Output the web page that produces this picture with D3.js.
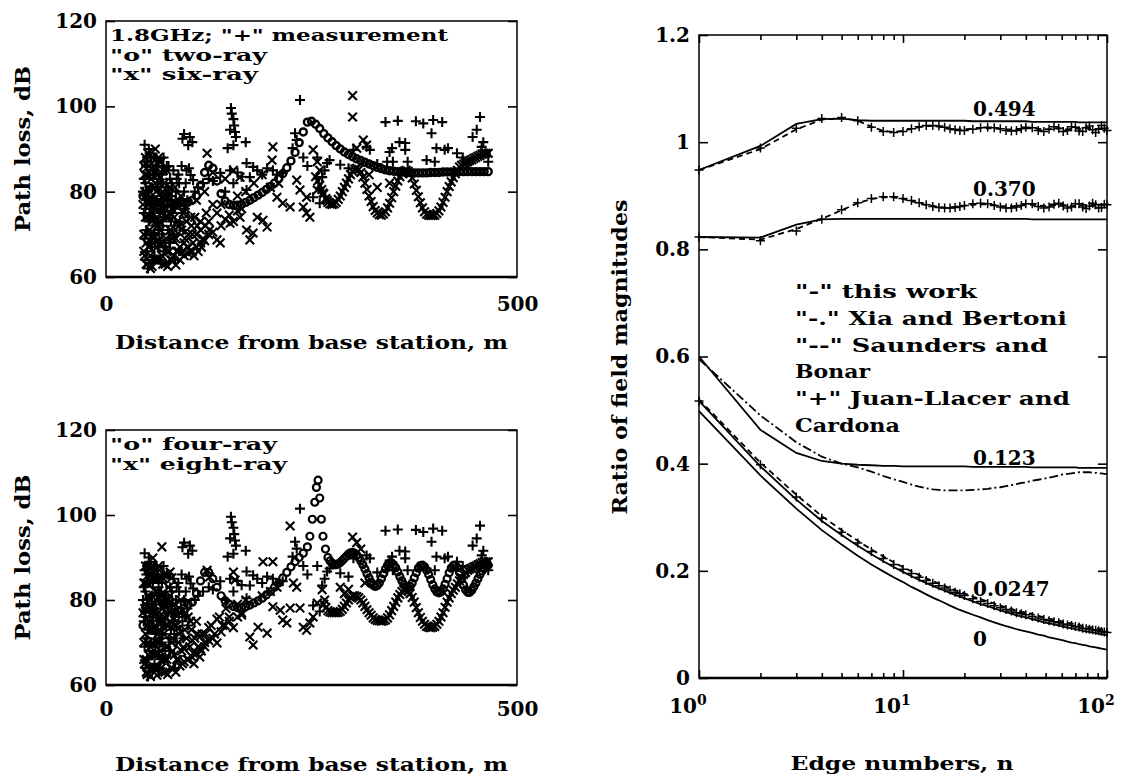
<!DOCTYPE html>
<html>
<head>
<meta charset="utf-8">
<script src="https://cdn.jsdelivr.net/npm/d3@7"></script>
<style>
  body { margin: 0; background: #fff; }
  text { font-family: "DejaVu Serif", serif; fill: #000; font-weight: bold; }
</style>
</head>
<body>
<svg id="fig" width="1128" height="778"></svg>
<script>
// ---------- path loss panels (distance m, loss dB) ----------
const distTicks = [0, 500];
const lossTicks = [60, 80, 100, 120];

// "+" measurement, shared by both panels
const measured = [
  [47,87],[48,82],[48,76],[49,71],[50,66],[51,84],[52,79],[52,73],[53,68],[54,63],
  [55,88],[56,81],[57,76],[58,70],[59,65],[60,85],[61,78],[62,73],[63,67],[64,83],
  [65,80],[66,75],[68,70],[69,86],[70,78],[72,74],[73,81],[75,77],[76,71],[78,83],
  [80,79],[81,75],[83,72],[85,80],[87,77],[89,82],[91,78],[93,75],[95,80],[97,82],[99,78],
  [46,83],[47,69],[49,86],[50,79],[51,74],[53,89],[54,77],[56,67],[57,84],[58,74],[60,69],
  [61,88],[62,81],[64,71],[66,64],[67,79],[68,84],[70,66],[71,74],[74,86],[77,68],[79,73],
  [82,85],[84,76],[86,70],[88,84],[90,73],[92,86],[94,71],[96,76],[98,85],[100,74],
  [45,80],[46,75],[47,91],[48,64],[49,78],[50,88],[51,62],[52,90],[53,76],[54,84],[55,70],
  [56,74],[57,64],[58,88],[59,77],[60,72],[62,86],[63,76],[65,68],[67,82],[69,72],[70,88],
  [72,67],[74,79],[76,86],[78,68],[80,82],[82,77],[84,64],[86,83],
  [93,92.4],[95,93.5],[100,90.9],[102,92.8],[105,91.6],[101,85.5],[103,83.9],[106,82.7],
  [108,80],[112,81],[118,82],[125,83],[130,82.5],[139,84.4],[145,80],[148,90.2],[151,94.5],
  [152,99.6],[153,98.3],[155,97],[156,95.5],[157,94],[158,92.8],[155,90.9],[151,85],[155,82],
  [160,84.5],[165,83.5],[170,91.6],[171,86.7],[175,83.4],[179,85.8],[171,80.4],[184,85],
  [190,84],[196,85.5],[203,85],[208,84],[215,84.4],[227,90.2],[230,93.7],[232,92.1],[236,101.5],
  [240,88],[245,86],[252,78.7],[257,88],[260,77.3],[263,83.4],[266,85],[269,86.7],[272,87.4],
  [285,86.3],[295,85.5],[301,89.8],[317,90.5],[321,89.8],[330,86.5],[342,87],[345,89.3],
  [348,90.2],[349,87],[340,96.3],[355,96.6],[357,91.6],[364,91.4],[364,89.8],[367,87],
  [377,96.5],[386,96],[390,87.4],[396,93.7],[398,96.8],[400,87],[402,90.2],[409,96.3],
  [412,89.8],[416,90.2],[427,89],[434,88],[440,86.5],[446,92.8],[451,94.5],[455,97.5],
  [457,90.5],[459,91.6],[462,89],[465,87]
];

// "o" two-ray
const twoRay = [
  [45,79],[50,78.5],[55,78],[60,77.7],[65,77.5],[70,77.4],[75,77.3],[80,77.3],[85,77.3],[90,77.3],
  [95,77.4],[100,77.6],[105,78],[110,79],[115,81.5],[120,84.5],[125,86.2],[130,85.5],[135,82.5],
  [140,79.5],[145,77.8],[150,77],[155,76.8],[160,76.8],[165,77],[170,77.5],[175,78],[180,78.6],
  [185,79.2],[190,79.8],[195,80.5],[200,81.2],[205,82],[210,83],[215,84.2],[220,85.6],[225,87.2],
  [230,89.2],[235,91.5],[240,94],[245,96.3],[250,96.5],[255,95.8],[260,94.8],[265,93.6],[270,92.6],
  [275,91.7],[280,90.8],[285,90],[290,89.3],[295,88.7],[300,88.2],[305,87.7],[310,87.3],[315,86.9],
  [320,86.5],[325,86.1],[330,85.7],[335,85.4],[340,85.1],[345,84.9],[350,84.8],[355,84.7],[360,84.6],
  [365,84.5],[370,84.5],[375,84.4],[380,84.4],[385,84.4],[390,84.4],[395,84.5],[400,84.5],[405,84.5],
  [410,84.6],[415,84.6],[420,84.6],[425,84.6],[430,84.7],[435,84.7],[440,84.7],[445,84.7],[450,84.7],
  [455,84.7],[460,84.7],[465,84.7]
];

// "x" six-ray: scattered part and the smooth part beyond 255 m
const sixRayScatter = [
  [46,86],[47,80],[48,74],[49,68],[50,63],[51,89],[52,77],[53,71],[54,65],[55,83],[56,62.5],
  [57,75],[58,69],[59,81],[60,90],[61,73],[62,67],[63,84],[64,78],[65,64],[66,71],[67,87],
  [68,76],[70,68],[71,82],[72,63],[73,74],[75,79],[77,66],[78,71],[80,76],[82,65],[84,81],
  [85,69],[87,73],[88,78],[90,67],[92,71],[94,75],[96,69],[98,73],[100,70],[102,66],[104,72],
  [106,68],[108,74],[110,70],[112,66],[115,73],[118,69],[122,75],[126,71],[130,77],
  [46,70],[47,65],[48,88],[50,84],[51,70],[52,86],[53,80],[54,74],[56,78],[57,68],[58,86],
  [60,64],[61,80],[62,70],[64,88],[65,73],[66,82],[68,65],[69,80],[71,76],[73,69],[74,85],
  [76,80],[78,75],[79,64],[81,69],[83,77],[86,66],[89,72],[91,79],[93,66],[97,76],[99,67],
  [103,74],[107,65],[111,72],[116,67],[121,72],
  [45,77],[46,66],[47,84],[48,79],[49,63],[50,74],[51,81],[52,67],[53,86],[54,62],[55,78],
  [56,73],[57,88],[58,64],[59,76],[60,82],[61,85],[62,64],[63,72],[65,87],[66,68],[67,75],
  [69,63],[70,85],[72,79],[74,66],[76,74],[78,81],[80,70],[83,74],
  [75,62.5],[80,64],[85,62.8],[88,66],[90,64],[95,65],[95,68],[100,65.5],[105,66],[105,70],
  [110,67],[115,68],[115,71],[120,68.5],[125,70],[125,73],[130,70.5],[135,75],[140,72],
  [145,73.5],[150,74.5],[155,73],[160,75.5],[165,76],
  [123,89],[135,68.7],[139,68],[151,72.6],[163,74],[155,85],[163,83.4],[171,71],[175,68.7],
  [179,70.3],[184,74],[191,73.3],[196,71.7],[202,87.4],[203,90.5],[208,78.7],[215,77.3],
  [224,76.4],[232,82.7],[236,80.4],[240,76.4],[244,75],[248,74],[244,78.7],[252,89.8],[257,87],
  [260,85],[257,80.4],[264,79.7],[269,78],[190,84],[180,82],[170,80],[145,83],[130,84.5],
  [120,80],[110,78],[140,77],[160,79],[200,81],[210,82],
  [300,102.5],[300,97.5],[305,90.2],[313,92.1],[317,90.9],[330,81],[345,82],[320,84]
];
const sixRayCurve = [
  [255,83.5],[257.5,82.5],[260,81.5],[262.5,80.5],[265,79.5],[267.5,78.4],[270,77.5],[272.5,77.1],
  [275,77],[277.5,77.1],[280,77.5],[282.5,78.2],[285,79],[287.5,80],[290,81],[292.5,82],[295,83],
  [297.5,84],[300,84.8],[302.5,85.3],[305,85.5],[307.5,85.2],[310,84.5],[312.5,83.4],[315,82],
  [317.5,80.5],[320,79],[322.5,77.7],[325,76.5],[327.5,75.6],[330,75],[332.5,74.6],[335,74.5],
  [337.5,74.8],[340,75.3],[342.5,76.2],[345,77.3],[347.5,78.6],[350,80],[352.5,81.3],[355,82.5],
  [357.5,83.5],[360,84.3],[362.5,84.8],[365,85],[367.5,84.8],[370,84.2],[372.5,83.2],[375,81.8],
  [377.5,80.3],[380,78.8],[382.5,77.4],[385,76.2],[387.5,75.3],[390,74.7],[392.5,74.5],[395,74.4],
  [397.5,74.4],[400,74.5],[402.5,74.9],[405,75.5],[407.5,76.4],[410,77.5],[412.5,78.7],[415,80],
  [417.5,81.2],[420,82.3],[422.5,83.3],[425,84.2],[427.5,85],[430,85.8],[432.5,86.2],[435,86.5],
  [437.5,86.8],[440,87],[442.5,87.3],[445,87.5],[447.5,87.8],[450,88],[452.5,88.3],[455,88.5],
  [457.5,88.8],[460,89],[462.5,89],[465,89]
];

// "o" four-ray
const fourRay = [
  [45,74],[50,77],[55,79],[60,77],[65,74],[70,76],[75,79],[80,78],[85,76],[90,77.5],[95,79.5],
  [100,79],[105,79.5],[110,81.5],[115,84.5],[120,86.5],[125,86.5],[130,85],[135,83],[140,81],
  [145,79.8],[150,79],[155,78.5],[160,78.2],[165,78.2],[170,78.4],[175,78.8],[180,79.3],[185,79.8],
  [190,80.4],[195,81.2],[200,82],[205,83],[210,84],[215,85.2],[220,86.5],[225,87.8],[230,89],
  [235,90],[240,91],[245,92.5],[248,95],[251,99],[254,103],[256,106.5],[258,108.2],[260,104],
  [262,99],[264,95],[267,92],
  [270,90],[272.5,89.2],[275,88.7],[277.5,88.4],[280,88.3],[282.5,88.5],[285,88.8],[287.5,89.3],
  [290,89.8],[292.5,90.3],[295,90.8],[297.5,91.1],[300,91.2],[302.5,91],[305,90.6],[307.5,90],
  [310,89.2],[312.5,88.3],[315,87.3],[317.5,86.2],[320,85.2],[322.5,84.2],[325,83.5],[327.5,83.2],
  [330,83.4],[332.5,84],[335,85],[337.5,86.2],[340,87.3],[342.5,88.2],[345,88.7],[347.5,88.7],
  [350,88.3],[352.5,87.6],[355,86.6],[357.5,85.5],[360,84.5],[362.5,83.6],[365,83],[367.5,82.9],
  [370,83.2],[372.5,84],[375,85.2],[377.5,86.4],[380,87.5],[382.5,88.1],[385,88.2],[387.5,87.8],
  [390,87],[392.5,86],[395,84.8],[397.5,83.6],[400,82.6],[402.5,81.9],[405,81.7],[407.5,81.9],
  [410,82.6],[412.5,83.7],[415,85],[417.5,86.4],[420,87.5],[422.5,88.1],[425,88.2],[427.5,87.6],
  [430,86.5],[432.5,85],[435,83.5],[437.5,82.4],[440,81.8],[442.5,81.8],[445,82.3],[447.5,83.1],
  [450,84],[452.5,85],[455,86],[457.5,86.8],[460,87.5],[462.5,87.9],[465,88.2]
];

// "x" eight-ray: scattered part and the smooth part beyond 265 m
const eightRayScatter = [
  [46,84],[47,78],[48,72],[49,66],[50,62.5],[51,88],[52,81],[53,75],[54,69],[55,64],[56,86],
  [57,89.9],[58,79],[59,73],[60,87],[61,67],[62,62.3],[63,82],[64,76],[65,70],[66,85],[67,64],
  [68,92.5],[69,78],[70,72],[71,66],[72,63],[73,80],[74,74],[75,69],[76,83],[78,86.6],[79,77],
  [80,85.2],[81,71],[83,67],[84,79],[86,74],[88,70],[90,77],[92,68],[94,68.9],[96,73],[98,71],
  [46,70],[47,65],[48,88],[50,84],[51,70],[52,86],[53,80],[54,73],[56,78],[57,67],[58,85],
  [60,64],[61,80],[62,70],[64,88],[65,73],[66,81],[68,66],[69,81],[71,76],[73,69],[74,86],
  [76,80],[78,75],[79,64],[81,68],[83,77],[86,66],[89,72],[91,80],[93,65],[97,77],[99,66],
  [103,75],[107,65],[111,72],[116,68],[121,72],
  [45,77],[46,66],[47,84],[48,79],[49,63],[50,74],[51,81],[52,67],[53,86],[54,62],[55,78],
  [56,73],[57,88],[58,64],[59,76],[60,82],[61,85],[62,64],[63,72],[65,87],[66,68],[67,75],
  [69,63],[70,85],[72,79],[74,66],[76,74],[78,81],[80,70],[83,74],
  [75,62.5],[80,64],[85,63],[88,66],[90,64.5],[95,65.5],[95,68.5],[100,66],[105,66.5],[105,70.5],
  [110,67.5],[115,68.5],[115,71.5],[120,69],[125,70.5],[125,73.5],[130,71],[135,75.5],[140,72.5],
  [145,74],[150,75],[155,73.5],[160,76],[165,76.5],
  [100,76],[102,69],[104,73],[106,67.5],[108,71],[110,75],[112,69],[114,66.6],[117,72],[120,70],
  [123,87],[126,85.4],[128,74],[132,72],[135,69.9],[138,76],[142,74],[146,78],[150,76],[155,86.6],
  [157,84.7],[160,79],[165,77],[170,80],[175,71.3],[179,69.4],[185,73.6],[190,81],[191,89],
  [196,72.2],[200,82],[203,89],[203,78.4],[208,83],[212,77.6],[215,75.3],[220,74.6],[224,97.4],
  [224,78.1],[228,84],[232,83],[236,78.1],[240,73.6],[244,72.9],[248,74.6],[252,76],[257,79.3],
  [263,82.4],[266,80],
  [300,94.8],[305,93.5],[310,92],[285,83],[295,82.5],[315,84],[290,81.5]
];
const eightRayCurve = [
  [265,79],[267.5,78.2],[270,77.5],[272.5,77.2],[275,77],[277.5,77],[280,77],[282.5,77.1],
  [285,77.3],[287.5,77.8],[290,78.5],[292.5,79.3],[295,80],[297.5,80.6],[300,81],[302.5,81],
  [305,80.8],[307.5,80.5],[310,80],[312.5,79.3],[315,78.5],[317.5,77.7],[320,77],[322.5,76.4],
  [325,75.8],[327.5,75.4],[330,75.2],[332.5,75.1],[335,75],[337.5,75.1],[340,75.3],[342.5,75.8],
  [345,76.5],[347.5,77.5],[350,78.5],[352.5,79.5],[355,80.5],[357.5,81.3],[360,82],[362.5,82.4],
  [365,82.5],[367.5,82.2],[370,81.5],[372.5,80.6],[375,79.5],[377.5,78.2],[380,77],[382.5,75.9],
  [385,75],[387.5,74.3],[390,73.8],[392.5,73.6],[395,73.5],[397.5,73.6],[400,73.8],[402.5,74.3],
  [405,75],[407.5,76],[410,77],[412.5,78.3],[415,79.5],[417.5,80.5],[420,81.5],[422.5,82.3],
  [425,83],[427.5,83.8],[430,84.5],[432.5,85.3],[435,86],[437.5,86.5],[440,87],[442.5,87.3],
  [445,87.5],[447.5,87.8],[450,88],[452.5,88.3],[455,88.5],[457.5,88.8],[460,89],[462.5,89],[465,89]
];

// ---------- edge diffraction panel ----------
const edgeN = [1,2,3,4,5,6,7,8,9,10,11,12,13,14,15,16,17,18,19,20,
  22,24,26,28,30,32,34,36,38,40,43,46,49,52,55,58,61,64,67,70,73,76,79,82,85,88,91,94,97,100];
const ratioTicks = [0, 0.2, 0.4, 0.6, 0.8, 1, 1.2];
const edgeMajor = [1, 10, 100];
const edgeMinor = [2,3,4,5,6,7,8,9,20,30,40,50,60,70,80,90];

const work494 = [0.948,0.993,1.034,1.043,1.044,1.041,1.040,1.040,1.040,1.040,1.040,1.040,1.040,1.040,1.040,1.040,1.040,1.040,1.040,1.040,
  1.039,1.039,1.039,1.039,1.039,1.039,1.039,1.039,1.039,1.039,1.038,1.038,1.038,1.038,1.038,1.038,1.038,1.038,1.038,1.038,
  1.037,1.037,1.037,1.037,1.037,1.037,1.037,1.037,1.037,1.037];
const saund494 = [0.948,0.987,1.024,1.042,1.045,1.040,1.029,1.021,1.019,1.021,1.025,1.028,1.030,1.030,1.029,1.027,1.025,1.024,1.024,1.024,
  1.025,1.026,1.026,1.026,1.025,1.024,1.024,1.024,1.025,1.026,1.026,1.025,1.024,1.024,1.025,1.026,1.025,1.024,1.025,1.026,
  1.025,1.024,1.025,1.026,1.025,1.024,1.025,1.026,1.025,1.025];
const juan494 = [0.948,0.989,1.026,1.044,1.046,1.040,1.028,1.020,1.018,1.020,1.025,1.029,1.031,1.031,1.030,1.028,1.025,1.023,1.022,1.022,
  1.024,1.027,1.028,1.027,1.025,1.022,1.021,1.022,1.025,1.028,1.027,1.022,1.020,1.024,1.029,1.026,1.020,1.022,1.029,1.028,
  1.021,1.020,1.027,1.030,1.023,1.018,1.024,1.031,1.026,1.022];

const work370 = [0.823,0.822,0.846,0.856,0.857,0.857,0.857,0.857,0.857,0.857,0.857,0.857,0.857,0.857,0.857,0.857,0.857,0.857,0.857,0.857,
  0.857,0.857,0.857,0.857,0.857,0.857,0.857,0.857,0.857,0.857,0.856,0.856,0.856,0.856,0.856,0.856,0.856,0.856,0.856,0.856,
  0.856,0.856,0.856,0.856,0.856,0.856,0.856,0.856,0.856,0.856];
const saund370 = [0.823,0.818,0.838,0.857,0.873,0.886,0.894,0.897,0.897,0.894,0.890,0.886,0.883,0.881,0.879,0.878,0.878,0.879,0.880,0.881,
  0.883,0.884,0.884,0.883,0.881,0.880,0.880,0.881,0.882,0.883,0.883,0.882,0.881,0.881,0.882,0.883,0.883,0.882,0.881,0.881,
  0.882,0.883,0.883,0.882,0.881,0.881,0.882,0.883,0.883,0.882];
const juan370 = [0.823,0.816,0.834,0.856,0.874,0.887,0.895,0.898,0.898,0.895,0.891,0.887,0.883,0.880,0.878,0.877,0.877,0.878,0.880,0.882,
  0.885,0.886,0.885,0.882,0.879,0.877,0.877,0.879,0.882,0.885,0.885,0.880,0.877,0.879,0.884,0.886,0.881,0.877,0.879,0.885,
  0.885,0.879,0.876,0.881,0.886,0.883,0.877,0.878,0.884,0.883];

const work123 = [0.600,0.463,0.420,0.405,0.400,0.398,0.397,0.396,0.396,0.395,0.395,0.395,0.395,0.395,0.395,0.395,0.395,0.395,0.395,0.395,
  0.394,0.394,0.394,0.394,0.394,0.394,0.394,0.394,0.394,0.394,0.393,0.393,0.393,0.393,0.393,0.393,0.393,0.393,0.393,0.393,
  0.392,0.392,0.392,0.392,0.392,0.392,0.392,0.392,0.392,0.392];
const xia123 = [0.595,0.490,0.440,0.413,0.400,0.393,0.385,0.377,0.371,0.366,0.361,0.357,0.354,0.352,0.351,0.350,0.350,0.350,0.350,0.350,
  0.351,0.352,0.353,0.355,0.356,0.358,0.360,0.362,0.364,0.365,0.368,0.370,0.372,0.374,0.376,0.378,0.380,0.381,0.382,0.383,
  0.384,0.384,0.384,0.384,0.383,0.383,0.382,0.382,0.381,0.381];

const work0247 = [0.517,0.395,0.333,0.293,0.267,0.247,0.231,0.218,0.207,0.198,0.190,0.183,0.177,0.172,0.167,0.163,0.159,0.155,0.152,0.149,
  0.143,0.138,0.134,0.130,0.126,0.123,0.120,0.117,0.115,0.113,0.110,0.107,0.104,0.102,0.100,0.098,0.096,0.094,0.093,0.091,
  0.090,0.088,0.087,0.086,0.085,0.084,0.083,0.082,0.081,0.080];
const saund0247 = [0.520,0.402,0.342,0.302,0.276,0.256,0.240,0.227,0.216,0.207,0.199,0.192,0.186,0.181,0.176,0.172,0.168,0.164,0.161,0.158,
  0.152,0.147,0.143,0.139,0.135,0.132,0.129,0.126,0.124,0.122,0.119,0.116,0.113,0.111,0.109,0.107,0.105,0.103,0.102,0.100,
  0.099,0.097,0.096,0.095,0.094,0.093,0.092,0.091,0.090,0.089];
const juan0247 = [0.517,0.398,0.338,0.298,0.272,0.252,0.236,0.223,0.212,0.203,0.195,0.188,0.182,0.177,0.172,0.168,0.164,0.160,0.157,0.154,
  0.148,0.143,0.139,0.135,0.131,0.128,0.125,0.122,0.120,0.118,0.115,0.112,0.109,0.107,0.105,0.103,0.101,0.099,0.098,0.096,
  0.095,0.093,0.092,0.091,0.090,0.089,0.088,0.087,0.086,0.085];

const work0 = [0.498,0.378,0.316,0.276,0.249,0.228,0.212,0.199,0.188,0.179,0.170,0.163,0.156,0.150,0.145,0.140,0.135,0.131,0.127,0.124,
  0.118,0.113,0.108,0.104,0.100,0.097,0.094,0.091,0.089,0.087,0.084,0.081,0.079,0.076,0.074,0.072,0.070,0.068,0.066,0.065,
  0.063,0.062,0.061,0.059,0.058,0.057,0.056,0.055,0.054,0.053];

const curveLabels = ['0.494', '0.370', '0.123', '0.0247', '0'];
const curveLabelAt = [[40, 1.064], [40, 0.915], [40, 0.412], [40, 0.168], [25, 0.075]];

// ---------- drawing ----------
const svg = d3.select('#fig');
const FONT = '"DejaVu Serif", serif';

function markerPath(kind, cx, cy, s) {
  if (kind === '+') return `M${cx - s},${cy}H${cx + s}M${cx},${cy - s}V${cy + s}`;
  if (kind === 'x') return `M${cx - s},${cy - s}L${cx + s},${cy + s}M${cx - s},${cy + s}L${cx + s},${cy - s}`;
  return `M${cx + s},${cy}A${s},${s} 0 1 0 ${cx - s},${cy}A${s},${s} 0 1 0 ${cx + s},${cy}`;
}

function styleAxis(g, size) {
  g.attr('font-family', FONT).attr('font-size', size);
  g.selectAll('line').attr('stroke-width', 1.6);
  g.select('.domain').remove();
}

function lossPanel(cfg) {
  const x = d3.scaleLinear().domain([0, 500]).range([106, 517]);
  const y = d3.scaleLinear().domain([60, 120]).range([cfg.bottom, cfg.top]);
  const g = svg.append('g');

  cfg.layers.forEach(layer => {
    g.append('g')
      .selectAll('path')
      .data(layer.data)
      .join('path')
      .attr('d', d => markerPath(layer.marker, x(d[0]), y(d[1]), layer.size))
      .attr('fill', 'none')
      .attr('stroke', '#000')
      .attr('stroke-width', layer.width);
  });

  // frame, heavier on the bottom as in the print
  g.append('rect')
    .attr('x', 106).attr('y', cfg.top)
    .attr('width', 411).attr('height', cfg.bottom - cfg.top)
    .attr('fill', 'none').attr('stroke', '#000').attr('stroke-width', 1.5);
  g.append('line')
    .attr('x1', 106).attr('x2', 517).attr('y1', cfg.bottom).attr('y2', cfg.bottom)
    .attr('stroke', '#000').attr('stroke-width', 2.5);

  g.append('g')
    .attr('transform', 'translate(106,0)')
    .call(d3.axisLeft(y).tickValues(lossTicks).tickSizeInner(-9).tickSizeOuter(0).tickPadding(9))
    .call(a => styleAxis(a, 20));
  g.append('g')
    .attr('transform', 'translate(517,0)')
    .call(d3.axisRight(y).tickValues(lossTicks).tickSizeInner(-9).tickSizeOuter(0).tickFormat(''))
    .call(a => styleAxis(a, 20));
  g.append('g')
    .attr('transform', `translate(0,${cfg.bottom})`)
    .call(d3.axisBottom(x).tickValues(distTicks).tickSize(0).tickPadding(cfg.xPad))
    .call(a => styleAxis(a, 20));

  // legend
  cfg.legend.forEach((t, i) => {
    g.append('text')
      .attr('x', 110).attr('y', cfg.top + 20 + i * 19.5)
      .attr('font-size', 16.5)
      .attr('textLength', cfg.legendLen[i]).attr('lengthAdjust', 'spacingAndGlyphs')
      .text(t);
  });

  g.append('text')
    .attr('x', 311.5).attr('y', cfg.titleY)
    .attr('text-anchor', 'middle').attr('font-size', 19)
    .attr('textLength', 393).attr('lengthAdjust', 'spacingAndGlyphs')
    .text('Distance from base station, m');

  g.append('text')
    .attr('transform', `translate(30,${(cfg.top + cfg.bottom) / 2}) rotate(-90)`)
    .attr('text-anchor', 'middle').attr('font-size', 20)
    .attr('textLength', 166).attr('lengthAdjust', 'spacingAndGlyphs')
    .text('Path loss, dB');
}

lossPanel({
  top: 21, bottom: 277, xPad: 20, titleY: 349,
  legend: ['1.8GHz; "+" measurement', '"o" two-ray', '"x" six-ray'],
  legendLen: [338, 157, 148],
  layers: [
    { data: sixRayScatter, marker: 'x', size: 4.3, width: 2.1 },
    { data: sixRayCurve, marker: 'x', size: 4.3, width: 2.1 },
    { data: twoRay, marker: 'o', size: 3.5, width: 2.4 },
    { data: measured, marker: '+', size: 5, width: 2.1 }
  ]
});

lossPanel({
  top: 430, bottom: 685, xPad: 17, titleY: 771,
  legend: ['"o" four-ray', '"x" eight-ray'],
  legendLen: [167, 177],
  layers: [
    { data: eightRayScatter, marker: 'x', size: 4.3, width: 2.1 },
    { data: eightRayCurve, marker: 'x', size: 4.3, width: 2.1 },
    { data: fourRay, marker: 'o', size: 3.5, width: 2.2 },
    { data: measured, marker: '+', size: 5, width: 2.1 }
  ]
});

// ---------- right panel ----------
const xN = d3.scaleLog().domain([1, 100]).range([699, 1107]);
const yR = d3.scaleLinear().domain([0, 1.2]).range([678, 35]);
const edgeLine = d3.line().x((d, i) => xN(edgeN[i])).y(d => yR(d));
const gR = svg.append('g');

const curves = [
  { v: work494, dash: null }, { v: saund494, dash: '6,4' },
  { v: work370, dash: null }, { v: saund370, dash: '6,4' },
  { v: work123, dash: null }, { v: xia123, dash: '9,3,2,3' },
  { v: work0247, dash: null }, { v: saund0247, dash: '6,4' },
  { v: work0, dash: null }
];
curves.forEach(c => {
  gR.append('path')
    .attr('d', edgeLine(c.v))
    .attr('fill', 'none').attr('stroke', '#000').attr('stroke-width', 1.8)
    .attr('stroke-dasharray', c.dash);
});

[juan494, juan370, juan0247].forEach(vals => {
  gR.append('g')
    .selectAll('path')
    .data(vals)
    .join('path')
    .attr('d', (d, i) => markerPath('+', xN(edgeN[i]), yR(d), 4.5))
    .attr('fill', 'none').attr('stroke', '#000').attr('stroke-width', 1.5);
});

gR.append('rect')
  .attr('x', 699).attr('y', 35).attr('width', 408).attr('height', 643)
  .attr('fill', 'none').attr('stroke', '#000').attr('stroke-width', 1.5);
gR.append('line')
  .attr('x1', 699).attr('x2', 1107).attr('y1', 678).attr('y2', 678)
  .attr('stroke', '#000').attr('stroke-width', 2.5);

gR.append('g')
  .attr('transform', 'translate(699,0)')
  .call(d3.axisLeft(yR).tickValues(ratioTicks).tickSizeInner(-9).tickSizeOuter(0).tickPadding(9)
    .tickFormat(d => (d === 0 || d === 1) ? String(d) : d3.format('.1f')(d)))
  .call(a => styleAxis(a, 20));
gR.append('g')
  .attr('transform', 'translate(1107,0)')
  .call(d3.axisRight(yR).tickValues(ratioTicks).tickSizeInner(-9).tickSizeOuter(0).tickFormat(''))
  .call(a => styleAxis(a, 20));

// log ticks, inward on bottom and top
[[edgeMajor, 8], [edgeMinor, 5]].forEach(([vals, len]) => {
  gR.append('g')
    .attr('transform', 'translate(0,678)')
    .call(d3.axisBottom(xN).tickValues(vals).tickSizeInner(-len).tickSizeOuter(0).tickFormat(''))
    .call(a => styleAxis(a, 20));
  gR.append('g')
    .attr('transform', 'translate(0,35)')
    .call(d3.axisTop(xN).tickValues(vals).tickSizeInner(-len).tickSizeOuter(0).tickFormat(''))
    .call(a => styleAxis(a, 20));
});

// 10^k labels
gR.append('g')
  .selectAll('text')
  .data(edgeMajor)
  .join('text')
  .attr('x', d => xN(d) - 11)
  .attr('y', 713)
  .attr('text-anchor', 'middle')
  .attr('font-size', 20)
  .each(function (d) {
    const t = d3.select(this);
    t.append('tspan').text('10');
    t.append('tspan').attr('dy', -8).attr('font-size', 14).text(Math.round(Math.log10(d)));
  });

gR.append('g')
  .selectAll('text')
  .data(curveLabels)
  .join('text')
  .attr('x', 973)
  .attr('y', (d, i) => yR(curveLabelAt[i][1]) + 8)
  .attr('font-size', 20)
  .text(d => d);

const rightLegend = ['"-" this work', '"-." Xia and Bertoni', '"--" Saunders and', 'Bonar',
  '"+" Juan-Llacer and', 'Cardona'];
const rightLegendLen = [182, 272, 253, 75, 275, 105];
rightLegend.forEach((t, i) => {
  gR.append('text')
    .attr('x', 795).attr('y', 298 + i * 26.8)
    .attr('font-size', 19)
    .attr('textLength', rightLegendLen[i]).attr('lengthAdjust', 'spacingAndGlyphs')
    .text(t);
});

gR.append('text')
  .attr('x', 902).attr('y', 770)
  .attr('text-anchor', 'middle').attr('font-size', 19)
  .attr('textLength', 223).attr('lengthAdjust', 'spacingAndGlyphs')
  .text('Edge numbers, n');

gR.append('text')
  .attr('transform', 'translate(627,357) rotate(-90)')
  .attr('text-anchor', 'middle').attr('font-size', 20)
  .attr('textLength', 315).attr('lengthAdjust', 'spacingAndGlyphs')
  .text('Ratio of field magnitudes');
</script>
</body>
</html>
